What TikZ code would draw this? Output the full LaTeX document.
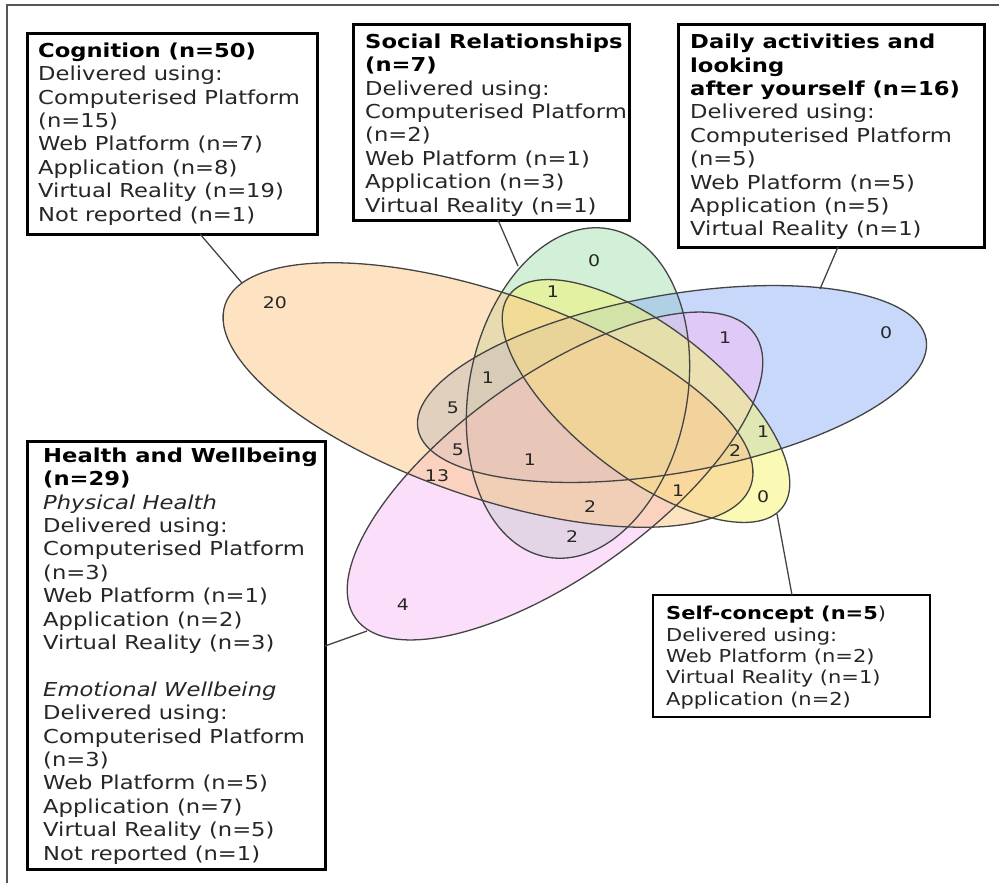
\documentclass[tikz,border=0pt]{standalone}
\usepackage{fontspec}
\setmainfont{DejaVu Sans}[FakeStretch=1.18,
  BoldFont={DejaVu Sans Bold},
  ItalicFont={DejaVu Sans Oblique},
  BoldItalicFont={DejaVu Sans Bold Oblique}]
\definecolor{cOrange}{HTML}{FCC98A}
\definecolor{cGreen}{HTML}{A8E0B4}
\definecolor{cBlue}{HTML}{93B5F5}
\definecolor{cMag}{HTML}{F5BFF5}
\definecolor{cYel}{HTML}{F5F570}
\definecolor{edgecol}{HTML}{444444}
\definecolor{txt}{HTML}{262626}
\definecolor{framecol}{HTML}{555555}
\tikzset{
  setfill/.style={fill opacity=0.52},
  setedge/.style={draw=edgecol, line width=1.3pt},
  catbox/.style={draw=black, line width=3pt, fill=white, inner sep=0pt, outer sep=0pt, anchor=north west},
  cattext/.style={anchor=north west, inner sep=0pt, align=left, text=txt, font=\fontsize{19.2}{23.4}\selectfont},
  smalltext/.style={anchor=north west, inner sep=0pt, align=left, text=txt, font=\fontsize{17.8}{21.4}\selectfont},
  count/.style={font=\fontsize{16}{18}\selectfont, text=black!85, inner sep=0pt},
  leader/.style={draw=edgecol, line width=1.3pt}
}
\newcommand\hd[1]{\textcolor{black}{\textbf{#1}}}
\begin{document}
\begin{tikzpicture}[x=1pt,y=-1pt]
\useasboundingbox (0,0) rectangle (999,883);
% outer frame (top and left)
\draw[framecol, line width=1.5pt] (7,883) -- (7,5) -- (999,5);

% ---------- Venn fills ----------
\fill[cGreen, setfill, shift={(578,393)}, rotate=-11] (0,0) ellipse [x radius=109pt, y radius=167pt];
\fill[cBlue, setfill, shift={(672,384)}, rotate=10] (0,0) ellipse [x radius=258pt, y radius=89pt];
\fill[cMag, setfill, shift={(555,476)}, rotate=35.5] (0,0) ellipse [x radius=245pt, y radius=100pt];
\fill[cYel, setfill, shift={(646,401)}, rotate=-38] (0,0) ellipse [x radius=173pt, y radius=74pt];
\fill[cOrange, setfill, shift={(488,395)}, rotate=-19] (0,0) ellipse [x radius=278pt, y radius=102pt];
% ---------- Venn outlines ----------
\draw[setedge, shift={(578,393)}, rotate=-11] (0,0) ellipse [x radius=109pt, y radius=167pt];
\draw[setedge, shift={(672,384)}, rotate=10] (0,0) ellipse [x radius=258pt, y radius=89pt];
\draw[setedge, shift={(555,476)}, rotate=35.5] (0,0) ellipse [x radius=245pt, y radius=100pt];
\draw[setedge, shift={(646,401)}, rotate=-38] (0,0) ellipse [x radius=173pt, y radius=74pt];
\draw[setedge, shift={(488,395)}, rotate=-19] (0,0) ellipse [x radius=278pt, y radius=102pt];

% ---------- counts ----------
\node[count] (n20) at (275,303) {20};
\node[count] (g0) at (594,261) {0};
\node[count] (sy1) at (553,292) {1};
\node[count] (hd1) at (725,338) {1};
\node[count] (d0) at (886,333) {0};
\node[count] (cds1) at (488,378) {1};
\node[count] (cd5) at (453,408) {5};
\node[count] (cdh5) at (458,450) {5};
\node[count] (cdhs1) at (530,460) {1};
\node[count] (ch13) at (437,476) {13};
\node[count] (chs2) at (590,507) {2};
\node[count] (hs2) at (572,537) {2};
\node[count] (h4) at (403,605) {4};
\node[count] (cy1) at (678,491) {1};
\node[count] (y0) at (763,497) {0};
\node[count] (cdy2) at (735,451) {2};
\node[count] (dy1) at (763,432) {1};

% ---------- boxes ----------
\node[catbox, minimum width=290pt, minimum height=200pt] (cogbox) at (27,34) {};
\node[catbox, minimum width=276pt, minimum height=195pt] (socbox) at (353,25) {};
\node[catbox, minimum width=306pt, minimum height=222pt] (daybox) at (678,25) {};
\node[catbox, minimum width=298pt, minimum height=428pt] (healthbox) at (27,441) {};
\node[catbox, line width=2pt, minimum width=277pt, minimum height=122pt] (selfbox) at (653,595) {};

\node[cattext] (cogtxt) at (38,42) {\rule{0pt}{15pt}\hd{Cognition (n=50)}\\
Delivered using:\\
Computerised Platform\\
(n=15)\\
Web Platform (n=7)\\
Application (n=8)\\
Virtual Reality (n=19)\\
Not reported (n=1)};

\node[cattext] (soctxt) at (365,33) {\rule{0pt}{15pt}\hd{Social Relationships}\\
\hd{(n=7)}\\
Delivered using:\\
Computerised Platform\\
(n=2)\\
Web Platform (n=1)\\
Application (n=3)\\
Virtual Reality (n=1)};

\node[cattext] (daytxt) at (690,33.5) {\rule{0pt}{15pt}\hd{Daily activities and}\\
\hd{looking}\\
\hd{after yourself (n=16)}\\
Delivered using:\\
Computerised Platform\\
(n=5)\\
Web Platform (n=5)\\
Application (n=5)\\
Virtual Reality (n=1)};

\node[cattext] (healthtxt) at (43,447) {\rule{0pt}{15pt}\hd{Health and Wellbeing}\\
\hd{(n=29)}\\
\textit{Physical Health}\\
Delivered using:\\
Computerised Platform\\
(n=3)\\
Web Platform (n=1)\\
Application (n=2)\\
Virtual Reality (n=3)\\
\mbox{}\\
\textit{Emotional Wellbeing}\\
Delivered using:\\
Computerised Platform\\
(n=3)\\
Web Platform (n=5)\\
Application (n=7)\\
Virtual Reality (n=5)\\
Not reported (n=1)};

\node[smalltext] (selftxt) at (666,605.5) {\rule{0pt}{14pt}\hd{Self-concept (n=5})\\
Delivered using:\\
Web Platform (n=2)\\
Virtual Reality (n=1)\\
Application (n=2)};

% ---------- leader lines ----------
\coordinate (cogtip) at (242,283);
\coordinate (soctip) at (518,266);
\coordinate (daytip) at (820,289);
\coordinate (healthtip) at (367,631);
\coordinate (selftip) at (777,514);
\draw[leader] ([xshift=173pt]cogbox.south west) -- (cogtip);
\draw[leader] ([xshift=145pt]socbox.south west) -- (soctip);
\draw[leader] ([xshift=160pt]daybox.south west) -- (daytip);
\draw[leader] ([yshift=-205pt]healthbox.north east) -- (healthtip);
\draw[leader] ([xshift=139pt]selfbox.north west) -- (selftip);
\end{tikzpicture}
\end{document}
